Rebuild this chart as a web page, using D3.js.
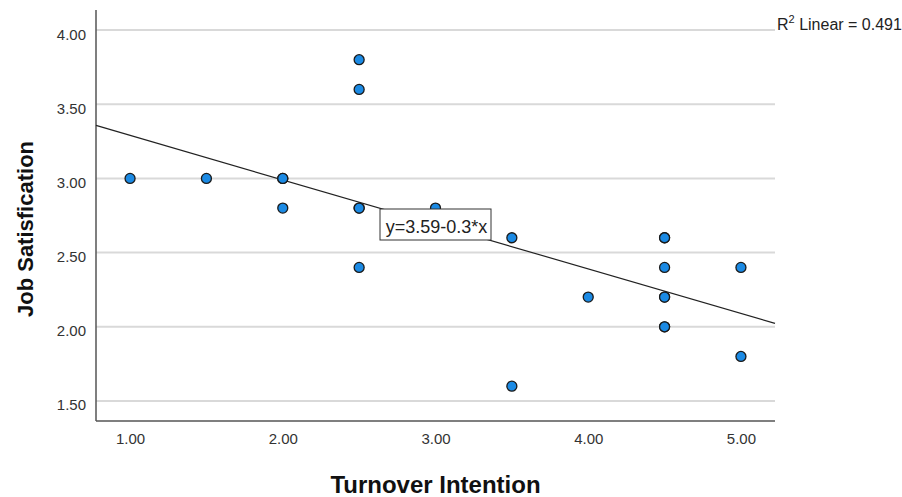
<!DOCTYPE html>
<html>
<head>
<meta charset="utf-8">
<script src="https://cdn.jsdelivr.net/npm/d3@7"></script>
<style>
  body { margin: 0; background: #fff; }
  text { font-family: "Liberation Sans", Arial, sans-serif; }
</style>
</head>
<body>
<svg width="902" height="497"></svg>
<script>
// turnover intention (x) vs job satisfaction (y)
var turnover = [1.0, 1.5, 2.0, 2.0, 2.0, 2.5, 2.5, 2.5, 2.5, 2.5, 3.0, 3.5, 3.5, 4.0, 4.5, 4.5, 4.5, 4.5, 4.5, 4.5, 4.5, 5.0, 5.0];
var satisfaction = [3.0, 3.0, 3.0, 3.0, 2.8, 3.8, 3.6, 2.8, 2.8, 2.4, 2.8, 2.6, 1.6, 2.2, 2.6, 2.6, 2.4, 2.2, 2.2, 2.0, 2.0, 2.4, 1.8];
var xTicks = [1, 2, 3, 4, 5];
var yTicks = [1.5, 2.0, 2.5, 3.0, 3.5, 4.0];
var intercept = 3.59, slope = -0.3;
var fitLabel = "y=3.59-0.3*x";
var r2Text = "0.491";

function main(){
    var svg = d3.select("svg");
    var left = 96, right = 775, top = 10, bottom = 421;

    var xScale = d3.scaleLinear().domain([0.777, 5.223]).range([left, right]);
    var yScale = d3.scaleLinear().domain([1.365, 4.135]).range([bottom, top]);

    // horizontal grid
    svg.append("g").selectAll("line")
        .data(yTicks).enter().append("line")
        .attr("x1", left).attr("x2", right)
        .attr("y1", function(d){ return yScale(d); })
        .attr("y2", function(d){ return yScale(d); })
        .attr("stroke", "#d9d9d9").attr("stroke-width", 2);

    // y axis
    var yAxis = svg.append("g").attr("transform", "translate(" + left + ",0)")
        .call(d3.axisLeft(yScale).tickValues(yTicks).tickFormat(d3.format(".2f")).tickSize(0).tickPadding(10));
    yAxis.select(".domain").attr("stroke", "#555").attr("stroke-width", 1.5).attr("d", "M0," + top + "V" + bottom);
    yAxis.selectAll("text").attr("font-size", 15).attr("fill", "#333").attr("dy", "0.6em")
        .style("font-family", "'Liberation Sans', Arial, sans-serif");

    // x axis
    var xAxis = svg.append("g").attr("transform", "translate(0," + bottom + ")")
        .call(d3.axisBottom(xScale).tickValues(xTicks).tickFormat(d3.format(".2f")).tickSize(0).tickPadding(12));
    xAxis.select(".domain").attr("stroke", "#555").attr("stroke-width", 1.5).attr("d", "M" + left + ",0H" + right);
    xAxis.selectAll("text").attr("font-size", 15).attr("fill", "#333")
        .style("font-family", "'Liberation Sans', Arial, sans-serif");

    // fit line
    svg.append("line")
        .attr("x1", xScale(0.777)).attr("y1", yScale(intercept + slope * 0.777))
        .attr("x2", xScale(5.223)).attr("y2", yScale(intercept + slope * 5.223))
        .attr("stroke", "#222").attr("stroke-width", 1.2);

    // points
    svg.append("g").selectAll("circle")
        .data(turnover).enter().append("circle")
        .attr("cx", function(d){ return xScale(d); })
        .attr("cy", function(d, i){ return yScale(satisfaction[i]); })
        .attr("r", 5)
        .attr("fill", "#1b8ae4")
        .attr("stroke", "#1a1a1a").attr("stroke-width", 1.3);

    // fit label box
    var lb = svg.append("g");
    lb.append("rect").attr("x", 380).attr("y", 209).attr("width", 111).attr("height", 31)
        .attr("fill", "#fff").attr("stroke", "#333").attr("stroke-width", 1);
    lb.append("text").attr("x", 436.5).attr("y", 233).attr("text-anchor", "middle")
        .attr("font-size", 18).attr("fill", "#222").text(fitLabel);

    // R squared
    var r2 = svg.append("text").attr("x", 777).attr("y", 30).attr("font-size", 16).attr("fill", "#222");
    r2.append("tspan").text("R");
    r2.append("tspan").attr("dy", -7).attr("font-size", 11).text("2");
    r2.append("tspan").attr("dy", 7).text(" Linear = " + r2Text);

    // axis titles
    svg.append("text").attr("x", 435.5).attr("y", 493).attr("text-anchor", "middle")
        .attr("font-size", 24).attr("font-weight", "bold").attr("fill", "#111").text("Turnover Intention");
    svg.append("text").attr("transform", "translate(33,229) rotate(-90)").attr("text-anchor", "middle")
        .attr("font-size", 22).attr("font-weight", "bold").attr("fill", "#111").text("Job Satisfication");
}
main();
</script>
</body>
</html>
